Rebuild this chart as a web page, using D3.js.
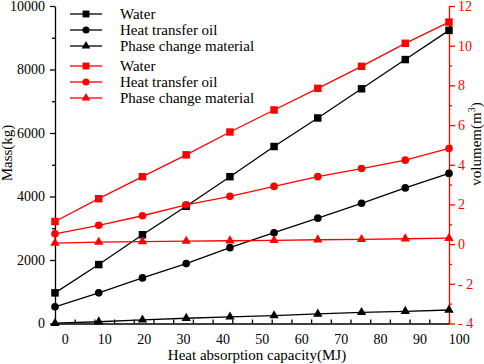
<!DOCTYPE html>
<html>
<head>
<meta charset="utf-8">
<script src="https://cdn.jsdelivr.net/npm/d3@7"></script>
<style>
  body { margin: 0; background: #fff; }
  text { font-family: "Liberation Serif", "Times New Roman", serif; }
</style>
</head>
<body>
<svg id="chart" width="484" height="364"></svg>
<script>
// heat absorption capacity (MJ) of each point
const capacity = [-2.5, 8.6, 19.7, 30.8, 41.9, 53.1, 64.2, 75.3, 86.4, 97.5];

// mass (kg), left axis
const massWater = [965, 1856, 2796, 3693, 4624, 5574, 6473, 7392, 8313, 9232];
const massOil   = [527, 965, 1436, 1887, 2389, 2859, 3317, 3787, 4270, 4727];
const massPcm   = [10, 55, 115, 165, 210, 250, 300, 350, 385, 425];

// volume (m3), right axis
const volWater = [1.14, 2.29, 3.40, 4.50, 5.65, 6.76, 7.85, 8.96, 10.12, 11.19];
const volOil   = [0.52, 0.95, 1.43, 1.98, 2.41, 2.91, 3.40, 3.81, 4.23, 4.82];
const volPcm   = [0.05, 0.10, 0.13, 0.15, 0.17, 0.19, 0.22, 0.24, 0.27, 0.30];

const seriesNames = ["Water", "Heat transfer oil", "Phase change material"];

const xTickLabels = [0, 10, 20, 30, 40, 50, 60, 70, 80, 90, 100];
const xTickMarks = [-2.5, 2.5, 7.5, 12.5, 17.5, 22.5, 27.5, 32.5, 37.5, 42.5, 47.5,
                    52.5, 57.5, 62.5, 67.5, 72.5, 77.5, 82.5, 87.5, 92.5, 97.5];
const massTicks = [0, 2000, 4000, 6000, 8000, 10000];
const massMinor = [1000, 3000, 5000, 7000, 9000];
const volTicks = [-4, -2, 0, 2, 4, 6, 8, 10, 12];
const volMinor = [-3, -1, 1, 3, 5, 7, 9, 11];

const margin = {top: 6, right: 35, bottom: 40.5, left: 55};
const W = 484, H = 364;
const RED = "#ff0000";

const svg = d3.select("#chart");

const x = d3.scaleLinear().domain([-2.5, 97.5]).range([margin.left, W - margin.right]);
const yMass = d3.scaleLinear().domain([0, 10000]).range([H - margin.bottom, margin.top]);
const yVol = d3.scaleLinear().domain([-4, 12]).range([H - margin.bottom, margin.top]);

const styleAxis = (g, color) => {
    g.selectAll("path, line").attr("stroke", color).attr("stroke-width", 1.3);
    g.selectAll("text").attr("fill", color).style("font-size", "14px")
        .style("font-family", '"Liberation Serif", serif');
};

// left axis
svg.append("g")
    .attr("transform", `translate(${margin.left},0)`)
    .call(d3.axisLeft(yMass).tickValues(massMinor).tickSize(3).tickFormat(""))
    .call(g => g.select(".domain").remove())
    .call(g => styleAxis(g, "#000"));
svg.append("g")
    .attr("transform", `translate(${margin.left},0)`)
    .call(d3.axisLeft(yMass).tickValues(massTicks).tickSizeInner(5).tickSizeOuter(0).tickPadding(5)
        .tickFormat(d3.format("d")))
    .call(g => styleAxis(g, "#000"));

// bottom axis: tick marks inward, labels sit between them
svg.append("g")
    .attr("transform", `translate(0,${H - margin.bottom})`)
    .call(d3.axisBottom(x).tickValues(xTickMarks).tickSizeInner(-4).tickSizeOuter(0).tickFormat(""))
    .call(g => styleAxis(g, "#000"));
svg.append("g")
    .attr("transform", `translate(0,${H - margin.bottom})`)
    .call(d3.axisBottom(x).tickValues(xTickLabels).tickSize(0).tickPadding(11))
    .call(g => g.select(".domain").remove())
    .call(g => styleAxis(g, "#000"));

// right axis (red)
svg.append("g")
    .attr("transform", `translate(${W - margin.right},0)`)
    .call(d3.axisRight(yVol).tickValues(volMinor).tickSize(3).tickFormat(""))
    .call(g => g.select(".domain").remove())
    .call(g => styleAxis(g, RED));
svg.append("g")
    .attr("transform", `translate(${W - margin.right},0)`)
    .call(d3.axisRight(yVol).tickValues(volTicks).tickSizeInner(6).tickSizeOuter(0).tickPadding(3)
        .tickFormat(d => d < 0 ? "- " + Math.abs(d) : d))
    .call(g => styleAxis(g, RED));

// axis titles
svg.append("text")
    .attr("x", 257)
    .attr("y", 360)
    .attr("text-anchor", "middle")
    .style("font-size", "15px")
    .text("Heat absorption capacity(MJ)");

svg.append("text")
    .attr("transform", "translate(12,153) rotate(-90)")
    .attr("text-anchor", "middle")
    .style("font-size", "15px")
    .text("Mass(kg)");

const volTitle = svg.append("text")
    .attr("transform", "translate(481,144) rotate(-90)")
    .attr("text-anchor", "middle")
    .style("font-size", "15px");
volTitle.append("tspan").text("volumem(m");
volTitle.append("tspan").attr("dy", -6).style("font-size", "10px").text("3");
volTitle.append("tspan").attr("dy", 6).text(")");

// series
const series = [
    {values: massWater, y: yMass, color: "#000", sym: d3.symbolSquare, size: 56},
    {values: massOil,   y: yMass, color: "#000", sym: d3.symbolCircle, size: 46},
    {values: massPcm,   y: yMass, color: "#000", sym: d3.symbolTriangle, size: 38},
    {values: volWater,  y: yVol,  color: RED,    sym: d3.symbolSquare, size: 56},
    {values: volOil,    y: yVol,  color: RED,    sym: d3.symbolCircle, size: 46},
    {values: volPcm,    y: yVol,  color: RED,    sym: d3.symbolTriangle, size: 38}
];

const plot = svg.append("g");
series.forEach(s => {
    const pts = s.values.map((v, i) => [x(capacity[i]), s.y(v)]);
    plot.append("path")
        .attr("d", d3.line()(pts))
        .attr("fill", "none")
        .attr("stroke", s.color)
        .attr("stroke-width", 1.3);
    plot.selectAll(null)
        .data(pts)
        .join("path")
        .attr("transform", d => `translate(${d[0]},${d[1]})`)
        .attr("d", d3.symbol(s.sym, s.size))
        .attr("fill", s.color);
});

// legend
const legendY = [14, 30, 46, 66, 82, 98];
const legend = svg.append("g");
series.forEach((s, i) => {
    const row = legend.append("g").attr("transform", `translate(70,${legendY[i]})`);
    row.append("line")
        .attr("x1", 0).attr("x2", 32)
        .attr("stroke", s.color).attr("stroke-width", 1.3);
    row.append("path")
        .attr("transform", "translate(16,0)")
        .attr("d", d3.symbol(s.sym, s.size * 0.85))
        .attr("fill", s.color);
    row.append("text")
        .attr("x", 50).attr("y", 5)
        .style("font-size", "15px")
        .text(seriesNames[i % 3]);
});
</script>
</body>
</html>
